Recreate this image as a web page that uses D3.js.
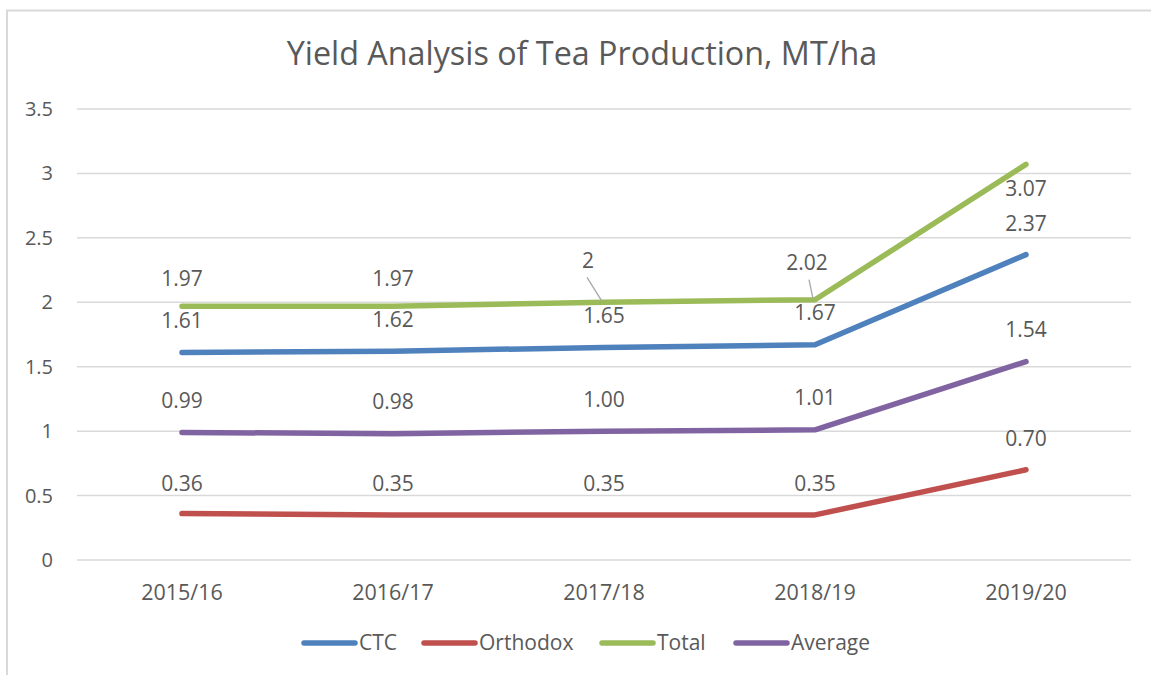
<!DOCTYPE html>
<html><head><meta charset="utf-8">
<script src="https://cdn.jsdelivr.net/npm/d3@7"></script>
<style>
html,body{margin:0;padding:0;background:#fff;}
text{font-family:"Open Sans","Noto Sans",sans-serif;fill:#595959;}
</style></head>
<body><svg id="c" width="1151" height="675"></svg>
<script>
const categories = ["2015/16","2016/17","2017/18","2018/19","2019/20"];
const ctc = [1.61,1.62,1.65,1.67,2.37];
const orthodox = [0.36,0.35,0.35,0.35,0.70];
const total = [1.97,1.97,2.00,2.02,3.07];
const average = [0.99,0.98,1.00,1.01,1.54];
const ctcLabels = ["1.61","1.62","1.65","1.67","2.37"];
const orthodoxLabels = ["0.36","0.35","0.35","0.35","0.70"];
const totalLabels = ["1.97","1.97","2","2.02","3.07"];
const averageLabels = ["0.99","0.98","1.00","1.01","1.54"];
const yTicks = [0,0.5,1,1.5,2,2.5,3,3.5];
const yTickLabels = ["0","0.5","1","1.5","2","2.5","3","3.5"];

const series = [
  {name:"CTC", values:ctc, labels:ctcLabels, color:"#4F81BD"},
  {name:"Orthodox", values:orthodox, labels:orthodoxLabels, color:"#C0504D"},
  {name:"Total", values:total, labels:totalLabels, color:"#9BBB59"},
  {name:"Average", values:average, labels:averageLabels, color:"#8064A2"}
];

const svg = d3.select("#c");
// chart border
svg.append("rect").attr("x",7).attr("y",10.5).attr("width",1170).attr("height",700)
  .attr("fill","none").attr("stroke","#d9d9d9").attr("stroke-width",2);

const x = d3.scalePoint().domain(categories).range([182,1026]);
const y = d3.scaleLinear().domain([0,3.5]).range([560,109]);
const plotL = 77, plotR = 1131;

// gridlines
svg.append("g").selectAll("line").data(yTicks).join("line")
  .attr("x1",plotL).attr("x2",plotR)
  .attr("y1",d=>y(d)).attr("y2",d=>y(d))
  .attr("stroke","#d9d9d9").attr("stroke-width",1.5);

// y tick labels
svg.append("g").selectAll("text").data(yTicks).join("text")
  .attr("x",53).attr("y",d=>y(d)).attr("dy","0.35em")
  .attr("text-anchor","end").attr("font-size",20)
  .text((d,i)=>yTickLabels[i]);

// x labels
svg.append("g").selectAll("text").data(categories).join("text")
  .attr("x",d=>x(d)).attr("y",592).attr("dy","0.35em")
  .attr("text-anchor","middle").attr("font-size",21.5)
  .text(d=>d);

// title
const title = svg.append("text").attr("x",582).attr("y",65)
  .attr("text-anchor","middle").attr("font-size",30)
  .text("Yield Analysis of Tea Production, MT/ha");
{
  const w = title.node().getComputedTextLength();
  title.attr("font-size", 30*591/w);
}

const line = d3.line().x((d,i)=>x(categories[i])).y(d=>y(d));
series.forEach(s=>{
  svg.append("path").datum(s.values).attr("d",line)
    .attr("fill","none").attr("stroke",s.color).attr("stroke-width",5.5)
    .attr("stroke-linecap","round").attr("stroke-linejoin","round");
});

// data labels
const labelOffsets = {
  "CTC":[-32,-32,-32,-32,-31],
  "Orthodox":[-30,-31,-31,-31,-31],
  "Total":[-28,-28,-42,-37,24],
  "Average":[-32,-32,-31,-32,-32]
};
const labelDx = {"Total":[0,0,-16,-8,0]};
series.forEach(s=>{
  svg.append("g").selectAll("text").data(s.values).join("text")
    .attr("x",(d,i)=>x(categories[i]) + ((labelDx[s.name]||[])[i]||0))
    .attr("y",(d,i)=>y(d)+labelOffsets[s.name][i])
    .attr("dy","0.35em").attr("text-anchor","middle").attr("font-size",21)
    .text((d,i)=>s.labels[i]);
});
// leader lines for Total labels at 2017/18 and 2018/19
[[2,-17,-25],[3,-6,-20]].forEach(([i,dx,dy])=>{
  const px = x(categories[i]), py = y(total[i]);
  svg.append("line").attr("x1",px+dx).attr("y1",py+dy).attr("x2",px-2).attr("y2",py-1)
    .attr("stroke","#a6a6a6").attr("stroke-width",1.3);
});

// legend
const legendItems = [
  {s:series[0], x:302},{s:series[1], x:422},{s:series[2], x:600},{s:series[3], x:734}
];
const lg = svg.append("g");
legendItems.forEach(it=>{
  lg.append("line").attr("x1",it.x+2).attr("x2",it.x+53).attr("y1",643).attr("y2",643)
    .attr("stroke",it.s.color).attr("stroke-width",5.5).attr("stroke-linecap","round");
  lg.append("text").attr("x",it.x+57).attr("y",643).attr("dy","0.35em")
    .attr("font-size",21).text(it.s.name);
});
</script></body></html>
